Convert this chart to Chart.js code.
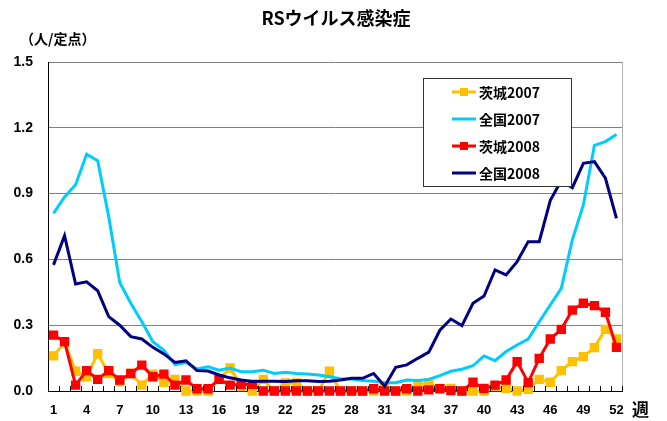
<!DOCTYPE html>
<html>
<head>
<meta charset="utf-8">
<script src="https://cdn.jsdelivr.net/npm/chart.js@4.4.1/dist/chart.umd.min.js"></script>
<style>
  html,body{margin:0;padding:0;background:#fff}
  #wrap{width:667px;height:421px}
</style>
</head>
<body>
<div id="wrap"><canvas id="rsChart" width="667" height="421"></canvas></div>
<script>
// weeks 1..52
const weeks = [1,2,3,4,5,6,7,8,9,10,11,12,13,14,15,16,17,18,19,20,21,22,23,24,25,26,
  27,28,29,30,31,32,33,34,35,36,37,38,39,40,41,42,43,44,45,46,47,48,49,50,51,52];
const weekTicks = [1,4,7,10,13,16,19,22,25,28,31,34,37,40,43,46,49,52];
const yTicks = [0, 0.3, 0.6, 0.9, 1.2, 1.5];

const seriesNames = ['茨城2007','全国2007','茨城2008','全国2008'];

// 人/定点
const ibaraki2007 = [0.16,0.22,0.09,0.065,0.17,0.08,0.043,0.08,0.027,0.077,0.04,0.053,0,0,0,0.053,
  0.105,0.02,0,0.053,0,0.037,0.037,0,0,0.09,0,0,0,0,0.02,0,0,0.027,0.038,0.012,
  0.012,0,0,0,0.02,0.012,0,0.008,0.053,0.04,0.093,0.134,0.157,0.198,0.281,0.237];
const zenkoku2007 = [0.81,0.885,0.94,1.08,1.05,0.795,0.495,0.40,0.316,0.225,0.185,0.12,0.13,0.10,0.11,0.095,
  0.105,0.088,0.088,0.095,0.08,0.085,0.08,0.077,0.073,0.065,0.056,0.055,0.048,0.045,0.038,0.038,0.05,0.048,0.053,0.07,
  0.09,0.099,0.115,0.16,0.138,0.18,0.21,0.237,0.316,0.392,0.468,0.689,0.848,1.12,1.137,1.17];
const ibaraki2008 = [0.255,0.225,0.027,0.093,0.053,0.093,0.05,0.08,0.118,0.065,0.077,0.027,0.05,0.01,0.01,0.053,
  0.027,0.03,0.03,0,0,0,0,0,0,0,0,0,0,0.01,0,0,0.01,0,0.005,0.01,
  0.002,0,0.04,0.012,0.027,0.05,0.134,0.038,0.149,0.237,0.281,0.369,0.40,0.389,0.359,0.199];
const zenkoku2008 = [0.575,0.708,0.488,0.498,0.457,0.339,0.30,0.248,0.237,0.199,0.169,0.13,0.138,0.093,0.091,0.073,
  0.06,0.05,0.043,0.045,0.045,0.043,0.047,0.047,0.043,0.045,0.05,0.058,0.058,0.08,0.022,0.108,0.119,0.149,0.177,0.277,
  0.328,0.298,0.40,0.433,0.552,0.529,0.59,0.681,0.681,0.868,0.96,0.927,1.038,1.046,0.97,0.787];

const numFont = '"Liberation Sans", Arial, sans-serif';
const jpFont = '"Noto Sans CJK JP", "Liberation Sans", sans-serif';

// title, unit label, axis tick marks, frame and the boxed legend
const decorPlugin = {
  id:'decor',
  afterDatasetsDraw(chart){
    const ctx = chart.ctx, a = chart.chartArea, xs = chart.scales.x;
    ctx.save();
    // right frame
    ctx.strokeStyle = '#b0b0b0'; ctx.lineWidth = 1;
    ctx.beginPath(); ctx.moveTo(a.right+0.5, a.top); ctx.lineTo(a.right+0.5, a.bottom); ctx.stroke();
    // small inner ticks on the x axis, between weeks
    const step = xs.getPixelForValue(1) - xs.getPixelForValue(0);
    ctx.strokeStyle = '#000';
    ctx.beginPath();
    for(let i=0;i<=weeks.length;i++){
      const x = Math.round(xs.getPixelForValue(i) - step/2) + 0.5;
      ctx.moveTo(x, a.bottom); ctx.lineTo(x, a.bottom-5);
    }
    ctx.stroke();
    ctx.restore();
  },
  afterDraw(chart){
    const ctx = chart.ctx;
    ctx.save();
    ctx.fillStyle = '#000';
    ctx.textBaseline = 'middle';
    ctx.textAlign = 'center';
    ctx.font = 'bold 18px ' + jpFont;
    ctx.fillText('RSウイルス感染症', 336, 18);
    ctx.textAlign = 'left';
    ctx.font = 'bold 14px ' + jpFont;
    ctx.fillText('（人/定点）', 20, 39);
    ctx.font = 'bold 17px ' + jpFont;
    ctx.fillText('週', 632, 410);

    // legend box
    const lx = 423, ly = 78, lw = 148, lh = 108;
    ctx.fillStyle = '#fff';
    ctx.fillRect(lx, ly, lw, lh);
    ctx.strokeStyle = '#333'; ctx.lineWidth = 1;
    ctx.strokeRect(lx+0.5, ly+0.5, lw, lh);
    chart.data.datasets.forEach((ds, i) => {
      const y = ly + 14 + i*27;
      ctx.strokeStyle = ds.borderColor; ctx.lineWidth = 3;
      ctx.beginPath(); ctx.moveTo(452, y); ctx.lineTo(476, y); ctx.stroke();
      if(ds.pointRadius > 0){
        ctx.fillStyle = ds.backgroundColor;
        ctx.fillRect(464-4, y-4, 8, 8);
      }
      ctx.fillStyle = '#000';
      ctx.font = 'bold 14px ' + jpFont;
      ctx.fillText(ds.label, 479, y+1);
    });
    ctx.restore();
  }
};

const colors = ['#FFC000','#00CCFF','#FF0000','#000080'];
const values = [ibaraki2007, zenkoku2007, ibaraki2008, zenkoku2008];
const markers = [true, false, true, false];

const ctx = document.getElementById('rsChart').getContext('2d');
new Chart(ctx, {
  type:'line',
  data:{
    labels: weeks,
    datasets: values.map((v, i) => ({
      label: seriesNames[i],
      data: v,
      borderColor: colors[i],
      backgroundColor: colors[i],
      borderWidth: 3,
      pointStyle: 'rect',
      pointRadius: markers[i] ? 4.5 : 0,
      pointHoverRadius: markers[i] ? 4.5 : 0,
      tension: 0,
      clip: false,
      order: 4 - i
    }))
  },
  options:{
    responsive:false,
    animation:false,
    events:[],
    layout:{ padding:{ top:62, left:0, right:45, bottom:0 } },
    plugins:{ legend:{display:false}, title:{display:false}, tooltip:{enabled:false} },
    scales:{
      x:{
        offset:true,
        grid:{ display:false, drawTicks:false },
        border:{ display:true, color:'#000', width:1 },
        ticks:{
          autoSkip:false, maxRotation:0, padding:12, color:'#000',
          font:{ family:numFont, size:13, weight:'bold' },
          callback:(v, i) => weekTicks.includes(weeks[i]) ? weeks[i] : ''
        },
        afterFit:(s) => { s.height = 30; }
      },
      y:{
        min:0, max:1.5,
        afterBuildTicks:(s) => { s.ticks = yTicks.map(v => ({value:v})); },
        grid:{ drawTicks:false, color:(c) => c.tick && c.tick.value === 0 ? 'rgba(0,0,0,0)' : '#808080', lineWidth:1 },
        border:{ display:true, color:'#000', width:1 },
        ticks:{
          padding:15, color:'#000',
          font:{ family:numFont, size:14, weight:'bold' },
          callback:(v) => Number(v).toFixed(1)
        },
        afterFit:(s) => { s.width = 48; }
      }
    }
  },
  plugins:[decorPlugin]
});
</script>
</body>
</html>
